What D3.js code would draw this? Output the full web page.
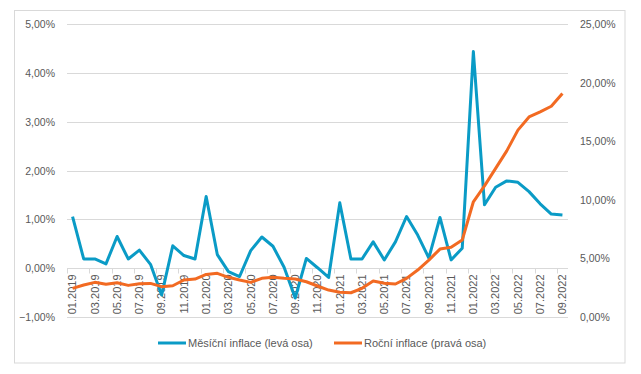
<!DOCTYPE html>
<html lang="cs">
<head>
<meta charset="UTF-8"/>
<title>Inflace</title>
<script src="https://d3js.org/d3.v7.min.js"></script>
<style>
  body { margin: 0; background: #fff; }
  text { font-family: "Liberation Sans", Arial, sans-serif; fill: #595959; }
</style>
</head>
<body>
<script>

var w = 641;
var h = 374;

// months 01.2019 - 09.2022
var months = [];
for (var yr = 2019; yr <= 2022; yr++) {
    for (var m = 1; m <= 12; m++) {
        if (yr == 2022 && m > 9) break;
        months.push((m < 10 ? "0" + m : "" + m) + "." + yr);
    }
}

// monthly inflation, % (left axis)
var monthly = [1.06, 0.19, 0.19, 0.09, 0.65, 0.19, 0.37, 0.08, -0.55, 0.46, 0.26, 0.19,
               1.47, 0.28, -0.07, -0.17, 0.36, 0.64, 0.45, 0.02, -0.61, 0.20, 0.01, -0.19,
               1.34, 0.19, 0.19, 0.54, 0.17, 0.54, 1.06, 0.68, 0.21, 1.04, 0.17, 0.41,
               4.44, 1.30, 1.66, 1.79, 1.76, 1.57, 1.32, 1.11, 1.09];

// annual inflation, % (right axis)
var annual = [2.45, 2.73, 2.96, 2.79, 2.93, 2.70, 2.84, 2.87, 2.59, 2.67, 3.16, 3.24,
              3.64, 3.73, 3.39, 3.16, 2.96, 3.30, 3.39, 3.30, 3.24, 3.01, 2.65, 2.30,
              2.11, 2.07, 2.45, 3.07, 2.88, 2.82, 3.30, 4.01, 4.86, 5.80, 5.95, 6.57,
              9.84, 11.20, 12.69, 14.19, 15.96, 17.09, 17.52, 18.00, 19.09];

var leftTicks = [-1, 0, 1, 2, 3, 4, 5];
var rightTicks = [0, 5, 10, 15, 20, 25];

var seriesNames = ["Měsíční inflace (levá osa)", "Roční inflace (pravá osa)"];
var colors = ["#0a9bc6", "#f26a22"];

// plot area
var plotL = 67, plotR = 568, plotT = 24.3, plotB = 317;

var svg = d3.select("body").append("svg")
    .attr("width", w)
    .attr("height", h);

// chart border
svg.append("rect")
    .attr("x", 14.5).attr("y", 10.5)
    .attr("width", 610.5).attr("height", 352.5)
    .attr("fill", "none")
    .attr("stroke", "#d9d9d9");

var xScale = d3.scaleBand()
    .domain(months)
    .range([plotL, plotR]);

var yLeft = d3.scaleLinear().domain([-1, 5]).range([plotB, plotT]);
var yRight = d3.scaleLinear().domain([0, 25]).range([plotB, plotT]);

var loc = d3.formatLocale({decimal: ",", thousands: " ", grouping: [3], currency: ["", ""]});
var pct = function(d) { return loc.format(".2f")(d) + "%"; };

// gridlines
svg.append("g").selectAll("line")
    .data(leftTicks)
    .enter().append("line")
    .attr("x1", plotL).attr("x2", plotR)
    .attr("y1", function(d) { return Math.round(yLeft(d)) + 0.5; })
    .attr("y2", function(d) { return Math.round(yLeft(d)) + 0.5; })
    .attr("stroke", "#d9d9d9");

// y axes
var gl = svg.append("g")
    .attr("transform", "translate(" + plotL + ",0)")
    .call(d3.axisLeft(yLeft).tickValues(leftTicks).tickSize(0).tickPadding(12).tickFormat(pct));
var gr = svg.append("g")
    .attr("transform", "translate(" + plotR + ",0)")
    .call(d3.axisRight(yRight).tickValues(rightTicks).tickSize(0).tickPadding(12).tickFormat(pct));
[gl, gr].forEach(function(g) {
    g.select(".domain").remove();
    g.selectAll("text").style("font-size", "10.5px").attr("fill", "#595959")
        .style("font-family", "'Liberation Sans', Arial, sans-serif");
});

// category tick marks (every second boundary)
var y0 = Math.round(yLeft(0)) + 0.5;
svg.append("g").selectAll("line")
    .data(months.filter(function(d, i) { return i % 2 == 0; }))
    .enter().append("line")
    .attr("x1", function(d) { return Math.round(xScale(d)) + 0.5; })
    .attr("x2", function(d) { return Math.round(xScale(d)) + 0.5; })
    .attr("y1", y0).attr("y2", y0 + 5)
    .attr("stroke", "#d9d9d9");

// x axis labels
var gx = svg.append("g")
    .attr("transform", "translate(0," + y0 + ")")
    .call(d3.axisBottom(xScale)
        .tickValues(months.filter(function(d, i) { return i % 2 == 0; }))
        .tickSize(0));
gx.select(".domain").remove();
gx.selectAll("text")
    .attr("transform", "rotate(-90)")
    .attr("x", -6)
    .attr("y", 0)
    .attr("dy", "0.35em")
    .attr("text-anchor", "end")
    .attr("fill", "#595959")
    .style("font-size", "11px")
    .style("font-family", "'Liberation Sans', Arial, sans-serif");

// lines (monthly first, annual drawn on top)
var cx = function(i) { return xScale(months[i]) + xScale.bandwidth() / 2; };

var lineL = d3.line()
    .x(function(d, i) { return cx(i); })
    .y(function(d) { return yLeft(d); });
var lineR = d3.line()
    .x(function(d, i) { return cx(i); })
    .y(function(d) { return yRight(d); });

svg.append("path")
    .datum(monthly)
    .attr("d", lineL)
    .attr("fill", "none")
    .attr("stroke", colors[0])
    .attr("stroke-width", 3)
    .attr("stroke-linejoin", "round");

svg.append("path")
    .datum(annual)
    .attr("d", lineR)
    .attr("fill", "none")
    .attr("stroke", colors[1])
    .attr("stroke-width", 3)
    .attr("stroke-linejoin", "round");

// legend
var legendX = [158, 334];
var leg = svg.append("g").selectAll("g")
    .data(seriesNames)
    .enter().append("g")
    .attr("transform", function(d, i) { return "translate(" + legendX[i] + ",343)"; });
leg.append("line")
    .attr("x1", 0).attr("x2", 28)
    .attr("stroke", function(d, i) { return colors[i]; })
    .attr("stroke-width", 3);
leg.append("text")
    .attr("x", 30)
    .attr("dy", "0.35em")
    .style("font-size", "11px")
    .text(function(d) { return d; });

</script>
</body>
</html>
